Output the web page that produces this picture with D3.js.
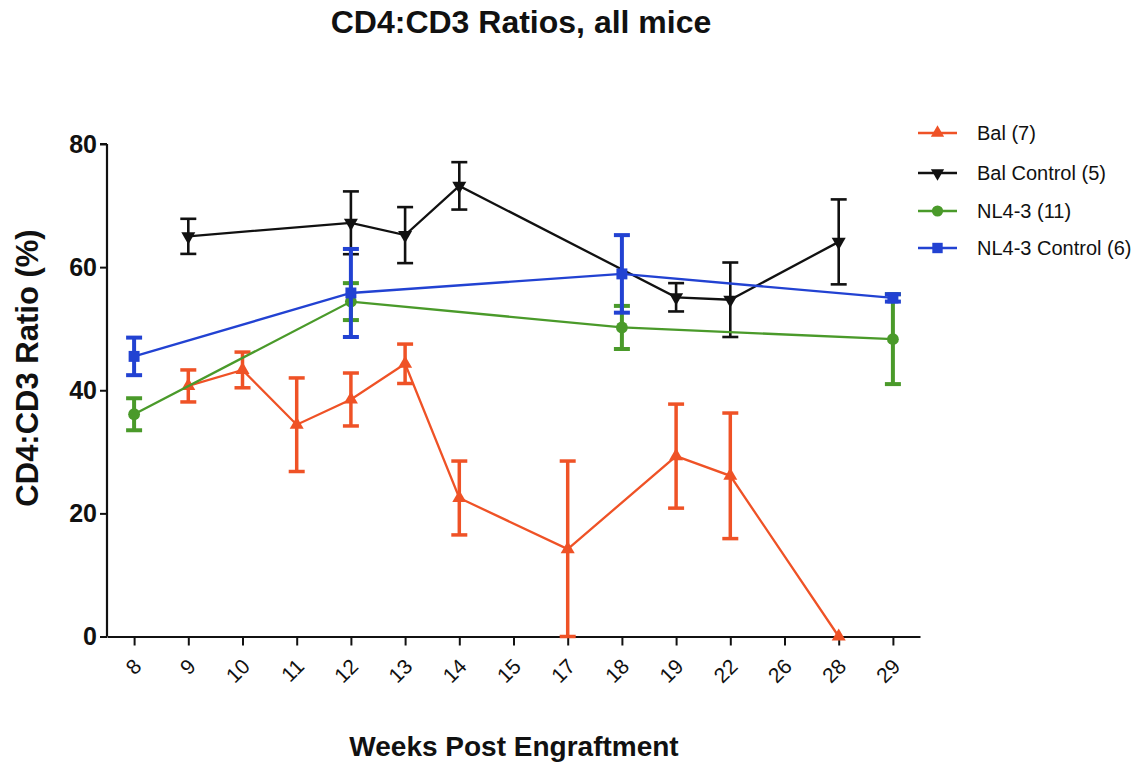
<!DOCTYPE html>
<html>
<head>
<meta charset="utf-8">
<script src="https://cdn.jsdelivr.net/npm/d3@7"></script>
<style>
  html, body { margin: 0; padding: 0; background: #fff; }
  svg { display: block; }
  text { font-family: "Liberation Sans", Arial, Helvetica, sans-serif; fill: #111; }
</style>
</head>
<body>
<svg id="chart" width="1141" height="763"></svg>
<script>
// Sampling weeks (categorical x axis)
const weeks = ["8","9","10","11","12","13","14","15","17","18","19","22","26","28","29"];
const yTicks = [0, 20, 40, 60, 80];

// Bal (7)
const balWeeks = ["9","10","11","12","13","14","17","19","22","28"];
const balMean  = [40.7, 43.3, 34.4, 38.5, 44.3, 22.5, 14.2, 29.3, 26.1, 0];
const balSem   = [2.6, 2.9, 7.6, 4.3, 3.2, 6.0, 14.3, 8.45, 10.2, 0];

// Bal Control (5)
const balCtrlWeeks = ["9","12","13","14","19","22","28"];
const balCtrlMean  = [65.0, 67.2, 65.2, 73.2, 55.1, 54.7, 64.1];
const balCtrlSem   = [2.85, 5.1, 4.55, 3.85, 2.3, 6.05, 6.9];

// NL4-3 (11)
const nlWeeks = ["8","12","18","29"];
const nlMean  = [36.1, 54.4, 50.2, 48.3];
const nlSem   = [2.6, 3.0, 3.5, 7.3];

// NL4-3 Control (6)
const nlCtrlWeeks = ["8","12","18","29"];
const nlCtrlMean  = [45.5, 55.8, 58.9, 55.0];
const nlCtrlSem   = [3.05, 7.15, 6.3, 0.6];

const seriesNames = ["Bal (7)", "Bal Control (5)", "NL4-3 (11)", "NL4-3 Control (6)"];

const series = [
  { name: seriesNames[0], weeks: balWeeks, mean: balMean, sem: balSem,
    color: "#ef5226", symbol: d3.symbolTriangle, rot: 0, size: 85, barW: 3.5 },
  { name: seriesNames[1], weeks: balCtrlWeeks, mean: balCtrlMean, sem: balCtrlSem,
    color: "#111111", symbol: d3.symbolTriangle, rot: 180, size: 85, barW: 2.6 },
  { name: seriesNames[2], weeks: nlWeeks, mean: nlMean, sem: nlSem,
    color: "#4a9a2a", symbol: d3.symbolCircle, rot: 0, size: 110, barW: 4 },
  { name: seriesNames[3], weeks: nlCtrlWeeks, mean: nlCtrlMean, sem: nlCtrlSem,
    color: "#2242d2", symbol: d3.symbolSquare, rot: 0, size: 120, barW: 4 }
];

const svg = d3.select("#chart");

const x = d3.scalePoint().domain(weeks).range([107, 920]).padding(0.5);
const y = d3.scaleLinear().domain([0, 80]).range([636.5, 144]);

// Axes
const yAxis = svg.append("g")
  .attr("transform", "translate(107,0)")
  .call(d3.axisLeft(y).tickValues(yTicks).tickSize(7).tickPadding(3));
yAxis.select(".domain").attr("stroke", "#111").attr("stroke-width", 2.2)
  .attr("d", `M0,${y(80)}H-7M0,${y(80)}V${y(0)}`);
yAxis.selectAll(".tick line").attr("stroke", "#111").attr("stroke-width", 2);
yAxis.selectAll(".tick text")
  .attr("font-size", 25).attr("font-weight", "bold").attr("fill", "#111");

const xAxis = svg.append("g")
  .attr("transform", `translate(0,${y(0)})`)
  .call(d3.axisBottom(x).tickSize(9).tickSizeOuter(0));
xAxis.select(".domain").attr("stroke", "#111").attr("stroke-width", 2.2);
xAxis.selectAll(".tick line").attr("stroke", "#111").attr("stroke-width", 2);
xAxis.selectAll(".tick text")
  .attr("font-size", 21)
  .attr("text-anchor", "end")
  .attr("dy", "0.35em")
  .attr("transform", "translate(3,26) rotate(-45)")
  .attr("y", 0).attr("x", 0)
  .attr("fill", "#111");

// Series: lines, error bars, markers
const capHalf = 8;
series.forEach(s => {
  const pts = s.weeks.map((w, i) => ({ w, m: s.mean[i], e: s.sem[i] }));
  const g = svg.append("g");

  g.append("path")
    .datum(pts)
    .attr("fill", "none")
    .attr("stroke", s.color)
    .attr("stroke-width", 2.3)
    .attr("d", d3.line().x(d => x(d.w)).y(d => y(d.m)));

  const bars = g.selectAll(".err").data(pts.filter(d => d.e > 0)).enter().append("g");
  bars.append("line")
    .attr("x1", d => x(d.w)).attr("x2", d => x(d.w))
    .attr("y1", d => y(Math.max(0, d.m - d.e))).attr("y2", d => y(d.m + d.e))
    .attr("stroke", s.color).attr("stroke-width", s.barW);
  bars.append("line")
    .attr("x1", d => x(d.w) - capHalf).attr("x2", d => x(d.w) + capHalf)
    .attr("y1", d => y(d.m + d.e)).attr("y2", d => y(d.m + d.e))
    .attr("stroke", s.color).attr("stroke-width", s.barW);
  bars.append("line")
    .attr("x1", d => x(d.w) - capHalf).attr("x2", d => x(d.w) + capHalf)
    .attr("y1", d => y(Math.max(0, d.m - d.e))).attr("y2", d => y(Math.max(0, d.m - d.e)))
    .attr("stroke", s.color).attr("stroke-width", s.barW);

  g.selectAll(".mk").data(pts).enter().append("path")
    .attr("d", d3.symbol().type(s.symbol).size(s.size))
    .attr("transform", d => `translate(${x(d.w)},${y(d.m)}) rotate(${s.rot})`)
    .attr("fill", s.color);
});

// Legend
const legend = svg.append("g");
const legY = [133, 173, 211, 248];
series.forEach((s, i) => {
  const row = legend.append("g").attr("transform", `translate(0,${legY[i]})`);
  row.append("line").attr("x1", 918).attr("x2", 957).attr("y1", 0).attr("y2", 0)
    .attr("stroke", s.color).attr("stroke-width", 2.3);
  row.append("path")
    .attr("d", d3.symbol().type(s.symbol).size(s.size * 0.9))
    .attr("transform", `translate(937.5,0) rotate(${s.rot})`)
    .attr("fill", s.color);
  row.append("text").attr("x", 977).attr("y", 0).attr("dy", "0.35em")
    .attr("font-size", 20).text(s.name);
});

// Titles
svg.append("text")
  .attr("x", 521).attr("y", 33)
  .attr("text-anchor", "middle")
  .attr("font-size", 32).attr("font-weight", "bold")
  .text("CD4:CD3 Ratios, all mice");

svg.append("text")
  .attr("transform", "translate(38,368) rotate(-90)")
  .attr("text-anchor", "middle")
  .attr("font-size", 31).attr("font-weight", "bold")
  .text("CD4:CD3 Ratio (%)");

svg.append("text")
  .attr("x", 514).attr("y", 756)
  .attr("text-anchor", "middle")
  .attr("font-size", 28).attr("font-weight", "bold")
  .text("Weeks Post Engraftment");
</script>
</body>
</html>
